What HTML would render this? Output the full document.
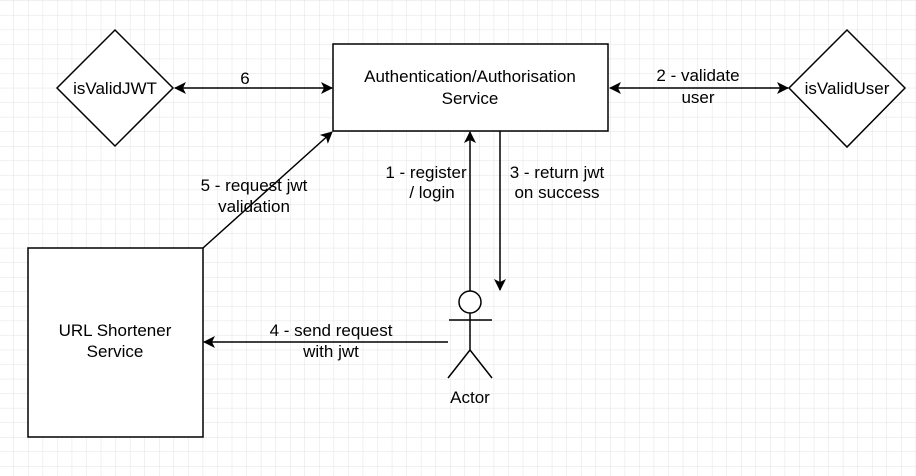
<!DOCTYPE html>
<html><head><style>
html,body{margin:0;padding:0;background:#fff;}
svg{display:block;}
text{font-family:"Liberation Sans",sans-serif;font-size:17px;fill:#000;}
</style></head><body>
<svg width="916" height="476" viewBox="0 0 916 476" xmlns="http://www.w3.org/2000/svg">
<defs>
<pattern id="g" x="13.5" y="0.5" width="14.55" height="14.55" patternUnits="userSpaceOnUse">
<path d="M0 0H14.55M0 0V14.55" stroke="#e2e2e2" stroke-width="1" fill="none"/>
</pattern>
<marker id="a" markerWidth="12" markerHeight="12" refX="11" refY="6" orient="auto-start-reverse" markerUnits="userSpaceOnUse">
<path d="M0,0 L12,6 L0,12 L3,6 Z" fill="#000"/>
</marker>
</defs>
<rect width="916" height="476" fill="url(#g)"/>
<g stroke="#000" stroke-width="1.5" fill="#fff">
<polygon points="115,30 173,88 115,146 57,88"/>
<polygon points="847,30 905,88 847,147 789,88"/>
<rect x="333" y="44" width="275" height="87"/>
<rect x="28" y="248" width="175" height="189"/>
</g>
<g stroke="#000" stroke-width="1.5" fill="none">
<line x1="175" y1="88" x2="332" y2="88" marker-start="url(#a)" marker-end="url(#a)"/>
<line x1="610" y1="88" x2="788" y2="88" marker-start="url(#a)" marker-end="url(#a)"/>
<line x1="203" y1="248" x2="332" y2="132" marker-end="url(#a)"/>
<line x1="448" y1="342" x2="204" y2="342" marker-end="url(#a)"/>
<line x1="470" y1="291" x2="470" y2="132" marker-end="url(#a)"/>
<line x1="500" y1="131" x2="500" y2="290" marker-end="url(#a)"/>
<circle cx="470" cy="302" r="11" fill="#fff"/>
<line x1="449" y1="320" x2="492" y2="320"/>
<line x1="470" y1="313" x2="470" y2="350"/>
<polyline points="448,378 470,350 492,378"/>
</g>
<text x="115" y="94" text-anchor="middle">isValidJWT</text>
<text x="847" y="94" text-anchor="middle">isValidUser</text>
<text x="470" y="82" text-anchor="middle">Authentication/Authorisation</text>
<text x="470" y="104" text-anchor="middle">Service</text>
<text x="115" y="336" text-anchor="middle">URL Shortener</text>
<text x="115" y="357" text-anchor="middle">Service</text>
<text x="245" y="84" text-anchor="middle">6</text>
<text x="698" y="81" text-anchor="middle">2 - validate</text>
<text x="698" y="103" text-anchor="middle">user</text>
<text x="254" y="191" text-anchor="middle">5 - request jwt</text>
<text x="254" y="212" text-anchor="middle">validation</text>
<text x="426" y="178" text-anchor="middle">1 - register</text>
<text x="432" y="198" text-anchor="middle">/ login</text>
<text x="557" y="178" text-anchor="middle">3 - return jwt</text>
<text x="557" y="198" text-anchor="middle">on success</text>
<text x="331" y="336" text-anchor="middle">4 - send request</text>
<text x="331" y="357" text-anchor="middle">with jwt</text>
<text x="470" y="403" text-anchor="middle">Actor</text>
</svg>
</body></html>
